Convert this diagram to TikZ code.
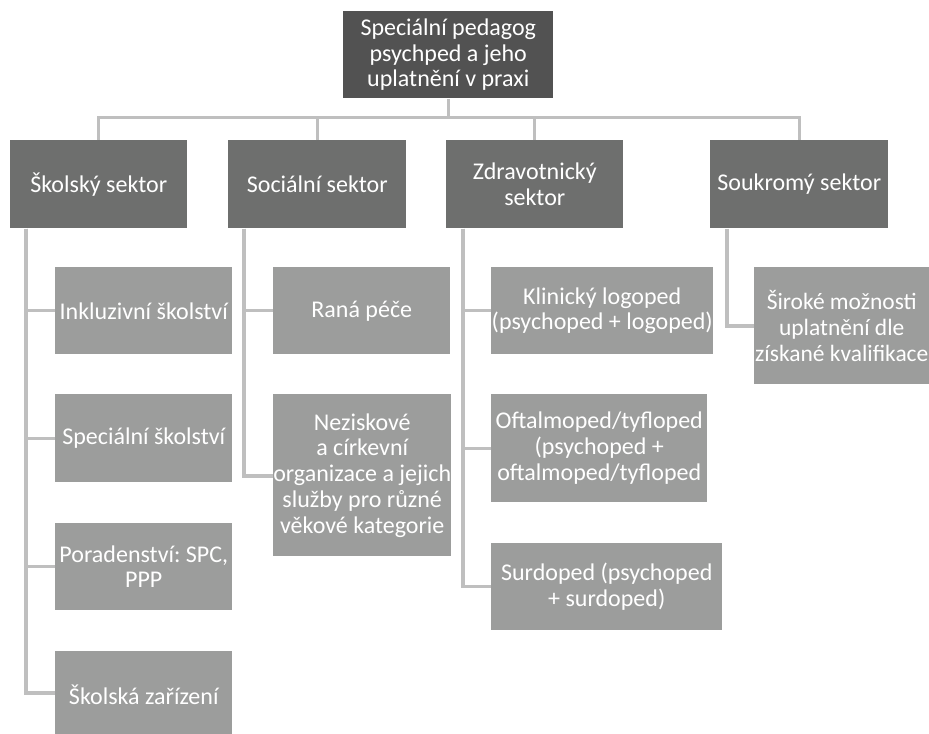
\documentclass[tikz,border=0pt]{standalone}
\usepackage{fontspec}
\setmainfont{Carlito}
\frenchspacing
\usetikzlibrary{calc}
\definecolor{cTop}{HTML}{525252}
\definecolor{cMid}{HTML}{6E6F6E}
\definecolor{cLow}{HTML}{9C9D9C}
\definecolor{cLine}{HTML}{BFBFBF}
\tikzset{
  bx/.style n args={2}{anchor=north west, inner sep=0pt, align=center,
    text=white, font=\fontsize{18pt}{19.3pt}\selectfont,
    minimum width=#1*0.75pt, minimum height=#2*0.75pt},
  toplevel/.style={fill=cTop},
  midlevel/.style={fill=cMid},
  lowlevel/.style={fill=cLow},
  conn/.style={draw=cLine, line width=2.3pt},
}
\begin{document}
\begin{tikzpicture}[x=0.75pt, y=-0.75pt]
\useasboundingbox (0,0) rectangle (929,733);
% level 1
\node[bx={210}{87}, toplevel] (top) at (343,11) {Speciální pedagog\\psychped a jeho\\uplatnění v praxi};
% level 2
\node[bx={177}{88}, midlevel] (sk) at (10,140) {Školský sektor};
\node[bx={178}{88}, midlevel] (so) at (228,140) {Sociální sektor};
\node[bx={177}{88}, midlevel] (zd) at (446,140) {Zdravotnický\\sektor};
\node[bx={178}{88}, midlevel] (sou) at (710,140) {Soukromý sektor};
% level 3 - Školský
\node[bx={177}{87}, lowlevel] (ink) at (55,267) {Inkluzivní školství};
\node[bx={177}{88}, lowlevel] (spe) at (55,394) {Speciální školství};
\node[bx={177}{87}, lowlevel] (por) at (55,523) {Poradenství: SPC,\\PPP};
\node[bx={177}{87}, lowlevel] (zar) at (55,651) {Školská zařízení};
% level 3 - Sociální
\node[bx={177}{87}, lowlevel] (ran) at (273,267) {Raná péče};
\node[bx={177}{162}, lowlevel] (nez) at (273,394) {Neziskové\\a církevní\\organizace a jejich\\služby pro různé\\věkové kategorie};
% level 3 - Zdravotnický
\node[bx={222}{87}, lowlevel] (kli) at (491,267) {Klinický logoped\\(psychoped + logoped)};
\node[bx={216}{108}, lowlevel] (oft) at (491,394) {Oftalmoped/tyfloped\\(psychoped +\\oftalmoped/tyfloped};
\node[bx={231}{87}, lowlevel] (sur) at (491,543) {Surdoped (psychoped\\+ surdoped)};
% level 3 - Soukromý
\node[bx={175}{117}, lowlevel, font=\fontsize{17.6pt}{19.3pt}\selectfont] (sir) at (754,267) {Široké možnosti\\uplatnění dle\\získané kvalifikace};
% connectors level 1 -> 2
\draw[conn] (top.south) -- ++(0,19) coordinate (j);
\draw[conn] (sk.north) |- (j) -| (sou.north);
\draw[conn] (so.north) |- (j);
\draw[conn] (zd.north) |- (j);
% connectors level 2 -> 3
\coordinate (skb) at ($(sk.south west)+(16,0)$);
\coordinate (sob) at ($(so.south west)+(16,0)$);
\coordinate (zdb) at ($(zd.south west)+(17,0)$);
\coordinate (soub) at ($(sou.south west)+(17,0)$);
\coordinate (zarw) at ($(zar.north west)+(0,42)$);
\coordinate (nezw) at ($(nez.north west)+(0,82)$);
\coordinate (sirw) at ($(sir.north west)+(0,59)$);
\draw[conn] (skb) |- (ink.west);
\draw[conn] (skb) |- (spe.west);
\draw[conn] (skb) |- (por.west);
\draw[conn] (skb) |- (zarw);
\draw[conn] (sob) |- (ran.west);
\draw[conn] (sob) |- (nezw);
\draw[conn] (zdb) |- (kli.west);
\draw[conn] (zdb) |- (oft.west);
\draw[conn] (zdb) |- (sur.west);
\draw[conn] (soub) |- (sirw);
\end{tikzpicture}
\end{document}
